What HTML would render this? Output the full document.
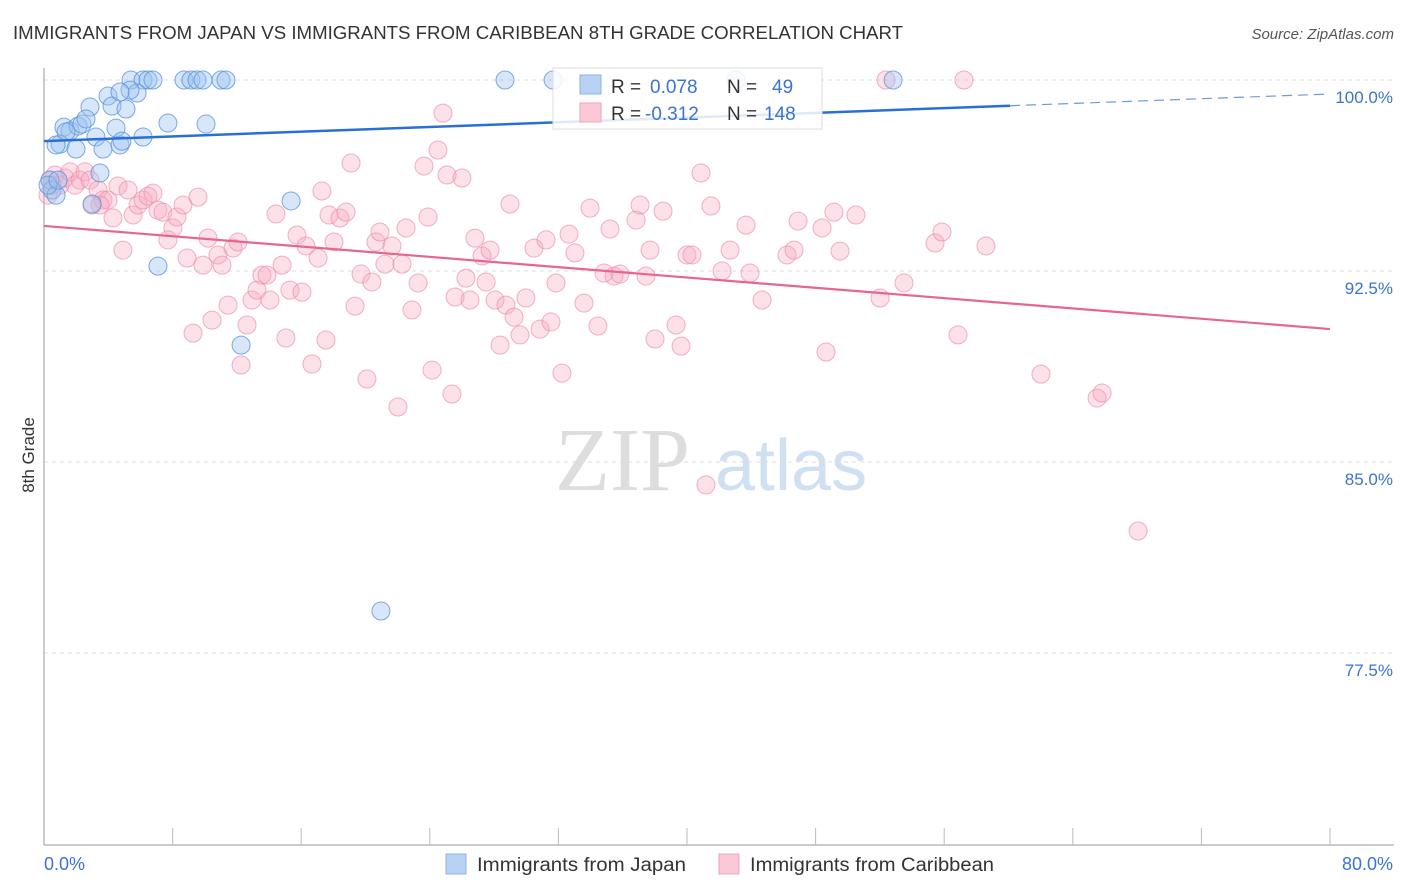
<!DOCTYPE html>
<html><head><meta charset="utf-8">
<style>
body{margin:0;background:#fff;font-family:"Liberation Sans",sans-serif;}
svg{display:block}
</style></head>
<body>
<svg id="chart" width="1406" height="892" xmlns="http://www.w3.org/2000/svg">
<text x="13" y="39" font-size="18" fill="#333" textLength="890" lengthAdjust="spacingAndGlyphs">IMMIGRANTS FROM JAPAN VS IMMIGRANTS FROM CARIBBEAN 8TH GRADE CORRELATION CHART</text>
<text x="1394" y="39" font-size="15" fill="#555" text-anchor="end" font-style="italic">Source: ZipAtlas.com</text>
<text x="555" y="490" font-size="90" fill="#ddd" font-family="Liberation Serif,serif">ZIP</text>
<text x="715" y="490" font-size="72" fill="#cfe0f3">atlas</text>
<g id="grid"></g>
<g id="axes"></g>
<text transform="translate(34,455) rotate(-90)" text-anchor="middle" font-size="17" fill="#333">8th Grade</text>
<g id="pinkpts"></g>
<g id="bluepts"></g>
<g id="trends"></g>
<g>
<rect x="553" y="68" width="269" height="61" fill="#fff" fill-opacity="0.85" stroke="#ddd"/>
<rect x="580" y="75" width="21" height="19" fill="#b7d2f3" stroke="#8fb3e3"/>
<rect x="580" y="103" width="21" height="19" fill="#fbc8d6" stroke="#eea6bb"/>
<text x="611" y="93" font-size="19" fill="#333">R = </text><text x="650" y="93" font-size="19" fill="#3b73d1">0.078</text>
<text x="727" y="93" font-size="19" fill="#333">N = </text><text x="772" y="93" font-size="19" fill="#3b73d1">49</text>
<text x="611" y="120" font-size="19" fill="#333">R = </text><text x="645" y="120" font-size="19" fill="#3b73d1">-0.312</text>
<text x="727" y="120" font-size="19" fill="#333">N = </text><text x="764" y="120" font-size="19" fill="#3b73d1">148</text>
</g>
<g>
<rect x="446" y="854" width="20" height="20" fill="#b7d2f3" stroke="#8fb3e3"/>
<text x="477" y="871" font-size="19" fill="#333" textLength="209" lengthAdjust="spacingAndGlyphs">Immigrants from Japan</text>
<rect x="719" y="854" width="20" height="20" fill="#fbc8d6" stroke="#eea6bb"/>
<text x="750" y="871" font-size="19" fill="#333" textLength="244" lengthAdjust="spacingAndGlyphs">Immigrants from Caribbean</text>
</g>
</svg>
<script>
const blueX=[5.41,6.16,6.47,6.78,8.71,9.14,9.52,9.89,11.01,11.32,28.68,31.67,43.05,52.82,3.98,5.79,5.35,4.23,2.86,5.10,1.24,1.62,2.12,2.36,2.61,4.48,7.71,10.08,3.23,6.16,1.0,1.99,3.67,4.73,4.85,3.48,0.37,0.5,0.75,2.99,15.37,7.09,12.26,20.96,0.25,1.37,4.73,0.75,0.87];
const blueY=[100,100,100,100,100,100,100,100,100,100,100,100,100,100,99.37,99.49,99.6,98.98,98.94,98.86,98.15,98.0,98.19,98.27,98.47,98.11,98.31,98.27,97.76,97.76,97.48,97.29,97.29,97.45,97.6,96.35,96.07,95.68,95.48,95.13,95.25,92.69,89.59,79.15,95.87,97.96,99.53,97.45,96.07];
const pinkX=[0.37,0.68,1.0,1.31,1.62,1.93,2.24,2.55,2.86,3.36,3.67,3.98,4.29,4.6,4.91,5.23,5.54,5.85,6.16,6.47,6.78,7.09,7.4,7.71,8.02,8.27,8.65,8.9,9.27,9.58,9.89,10.2,10.45,10.82,11.07,11.45,11.76,12.07,12.26,12.63,12.94,13.25,13.56,13.87,14.06,14.43,14.81,15.05,15.3,15.74,16.05,16.3,16.67,17.05,17.29,17.54,17.73,18.04,18.41,18.79,19.1,19.35,19.72,20.09,20.4,20.65,20.9,21.21,21.65,22.02,22.27,22.52,22.89,23.27,23.64,23.89,24.14,24.51,24.82,25.07,25.38,25.57,26.0,26.25,26.5,26.81,27.25,27.5,27.75,28.06,28.37,28.74,28.99,29.24,29.61,29.98,30.48,30.86,31.23,31.54,31.85,32.22,32.66,33.03,33.59,33.97,34.46,34.84,35.21,35.46,35.83,36.83,37.08,37.45,37.7,38.01,38.51,39.32,39.63,40.0,40.31,40.87,41.18,41.49,42.18,42.68,43.67,43.92,44.67,46.22,46.66,46.91,48.4,48.65,49.14,49.52,50.51,52.01,52.38,53.5,55.43,55.86,56.86,57.23,58.6,62.02,65.51,65.82,68.06,0.25,0.5,3.48,2.99];
const pinkY=[96.07,96.27,95.87,96.15,96.39,95.87,96.07,96.39,96.07,95.68,95.29,95.29,94.58,95.84,93.32,95.68,94.7,95.09,95.29,95.44,95.56,94.89,94.81,93.72,94.19,94.62,95.09,93.01,90.06,95.4,92.73,93.79,90.57,93.13,92.73,91.16,93.4,93.64,88.81,90.38,91.36,91.75,92.34,92.34,91.36,94.74,92.73,89.87,91.75,93.91,91.67,93.48,88.85,93.01,95.64,89.79,94.7,93.64,94.58,94.81,96.74,91.12,92.38,88.26,92.07,93.64,94.03,92.77,93.48,87.16,92.77,94.19,90.97,92.03,96.62,94.62,88.61,97.25,98.7,96.27,87.67,91.48,96.15,92.22,91.36,93.79,93.09,92.07,93.32,91.36,89.59,91.16,95.13,90.69,89.99,91.44,93.4,90.22,93.72,90.5,92.03,88.49,93.95,93.21,91.24,94.97,90.34,92.42,94.15,92.3,92.38,94.5,95.09,92.3,93.32,89.83,94.85,90.38,89.55,93.13,93.13,96.35,84.1,95.05,92.5,93.32,94.3,92.42,91.36,93.13,93.32,94.46,94.19,89.32,94.81,93.28,94.7,91.44,100,92.03,93.6,94.03,89.99,100,93.48,88.45,87.51,87.71,82.29,95.48,95.87,95.09,95.09];
const trendBlue=[97.6,99.45];
const trendPink=[94.27,90.22];
const yTicks=[100,92.5,85,77.5];
const yTickLabels=["100.0%","92.5%","85.0%","77.5%"];
const xTicks=[0,8,16,24,32,40,48,56,64,72,80];
const NS="http://www.w3.org/2000/svg";
const X=v=>44+v*1286/80;
const Y=v=>80+(100-v)*191/7.5;
function mk(tag,attrs,parent){const e=document.createElementNS(NS,tag);for(const k in attrs)e.setAttribute(k,attrs[k]);parent.appendChild(e);return e;}
const grid=document.getElementById('grid'),axes=document.getElementById('axes');
yTicks.forEach((t,i)=>{
  const l=mk('line',{x1:44,x2:1394,y1:Y(t),y2:Y(t),stroke:'#ddd','stroke-dasharray':'4,4'},grid);
  
  
  const tx=mk('text',{x:1393,y:Y(t)+23,'text-anchor':'end','font-size':17,fill:'#3b73d1'},grid);
  tx.textContent=yTickLabels[i];
  
  
});
const ya=mk('line',{x1:44,x2:44,y1:68,y2:845,stroke:'#bbb','stroke-width':1.5},axes);


const xa=mk('line',{x1:44,x2:1394,y1:845,y2:845,stroke:'#bbb','stroke-width':1.5},axes);


xTicks.forEach(t=>{
  const l=mk('line',{x1:X(t),x2:X(t),y1:828,y2:845,stroke:'#bbb'},axes);
  
  
});
const x0=mk('text',{x:44,y:870,'font-size':18,fill:'#3b73d1'},axes);x0.textContent='0.0%';


const x1=mk('text',{x:1393,y:870,'font-size':18,fill:'#3b73d1','text-anchor':'end'},axes);x1.textContent='80.0%';


const pg=document.getElementById('pinkpts');
pinkX.forEach((x,i)=>{
  const c=mk('circle',{cx:X(x),cy:Y(pinkY[i]),r:9,fill:'#f7a8bf','fill-opacity':0.35,stroke:'#ec8fab','stroke-opacity':0.7},pg);
  
  
});
const bg=document.getElementById('bluepts');
blueX.forEach((x,i)=>{
  const c=mk('circle',{cx:X(x),cy:Y(blueY[i]),r:9,fill:'#9cc3ef','fill-opacity':0.4,stroke:'#5c94dc','stroke-opacity':0.8},bg);
  
  
});
const tg=document.getElementById('trends');
const bAt=v=>trendBlue[0]+(trendBlue[1]-trendBlue[0])*v/80;
const tb=mk('line',{x1:X(0),y1:Y(bAt(0)),x2:X(60.1),y2:Y(bAt(60.1)),stroke:'#2a6fd6','stroke-width':2.5},tg);


const tbd=mk('line',{x1:X(60.1),y1:Y(bAt(60.1)),x2:X(80),y2:Y(bAt(80)),stroke:'#6f9ad6','stroke-width':1.2,'stroke-dasharray':'10,6'},tg);


const tp=mk('line',{x1:X(0),y1:Y(trendPink[0]),x2:X(80),y2:Y(trendPink[1]),stroke:'#e8658f','stroke-width':2.2},tg);


</script>
</body></html>
